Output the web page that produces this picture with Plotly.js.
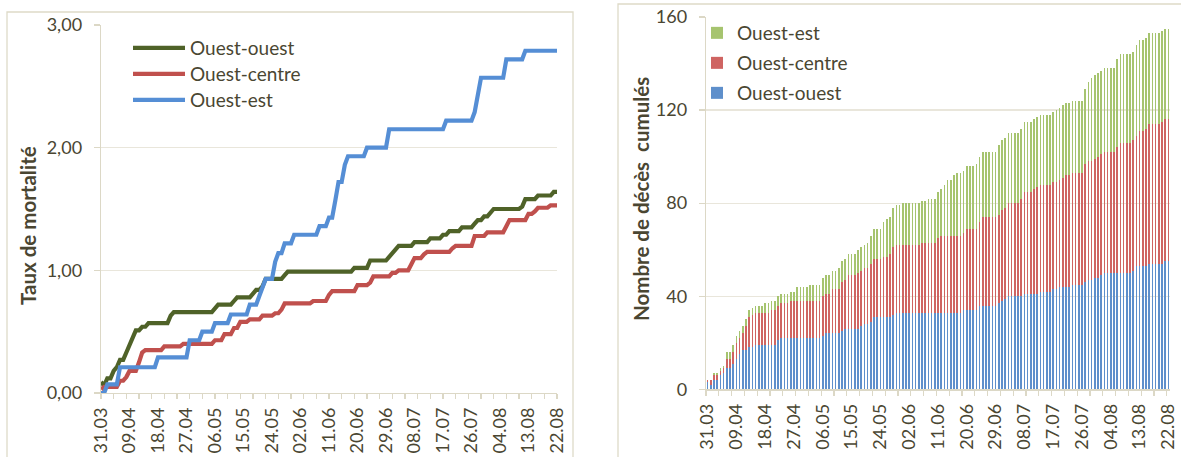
<!DOCTYPE html>
<html>
<head>
<meta charset="utf-8">
<script src="https://cdn.plot.ly/plotly-3.0.1.min.js"></script>
<style>html,body{margin:0;padding:0;background:#fff;}#chart{width:1181px;height:457px;}</style>
</head>
<body>
<div id="chart"></div>
<script>
// ---------- DATA ----------
const dates = [
'31.03',
'01.04','02.04','03.04','04.04','05.04','06.04','07.04','08.04','09.04','10.04',
'11.04','12.04','13.04','14.04','15.04','16.04','17.04','18.04','19.04','20.04',
'21.04','22.04','23.04','24.04','25.04','26.04','27.04','28.04','29.04','30.04',
'01.05','02.05','03.05','04.05','05.05','06.05','07.05','08.05','09.05','10.05',
'11.05','12.05','13.05','14.05','15.05','16.05','17.05','18.05','19.05','20.05',
'21.05','22.05','23.05','24.05','25.05','26.05','27.05','28.05','29.05','30.05','31.05',
'01.06','02.06','03.06','04.06','05.06','06.06','07.06','08.06','09.06','10.06',
'11.06','12.06','13.06','14.06','15.06','16.06','17.06','18.06','19.06','20.06',
'21.06','22.06','23.06','24.06','25.06','26.06','27.06','28.06','29.06','30.06',
'01.07','02.07','03.07','04.07','05.07','06.07','07.07','08.07','09.07','10.07',
'11.07','12.07','13.07','14.07','15.07','16.07','17.07','18.07','19.07','20.07',
'21.07','22.07','23.07','24.07','25.07','26.07','27.07','28.07','29.07','30.07','31.07',
'01.08','02.08','03.08','04.08','05.08','06.08','07.08','08.08','09.08','10.08',
'11.08','12.08','13.08','14.08','15.08','16.08','17.08','18.08','19.08','20.08',
'21.08','22.08'];

const tickLabels = ['31.03','09.04','18.04','27.04','06.05','15.05','24.05','02.06','11.06',
  '20.06','29.06','08.07','17.07','26.07','04.08','13.08','22.08'];

const seriesNames = ['Ouest-ouest','Ouest-centre','Ouest-est'];

// Taux de mortalité (left chart)
const tauxOuestOuest = [
0.09,0.06,0.12,0.12,0.18,0.21,0.27,0.27,0.33,0.39,
0.45,0.51,0.51,0.54,0.54,0.57,0.57,0.57,0.57,0.57,
0.57,0.57,0.63,0.66,0.66,0.66,0.66,0.66,0.66,0.66,
0.66,0.66,0.66,0.66,0.66,0.66,0.69,0.72,0.72,0.72,
0.72,0.72,0.75,0.78,0.78,0.78,0.78,0.78,0.81,0.84,
0.84,0.87,0.93,0.93,0.93,0.93,0.93,0.93,0.96,0.99,
0.99,0.99,0.99,0.99,0.99,0.99,0.99,0.99,0.99,0.99,
0.99,0.99,0.99,0.99,0.99,0.99,0.99,0.99,0.99,0.99,
1.02,1.02,1.02,1.02,1.02,1.08,1.08,1.08,1.08,1.08,
1.08,1.11,1.14,1.17,1.20,1.20,1.20,1.20,1.20,1.23,
1.23,1.23,1.23,1.23,1.26,1.26,1.26,1.26,1.29,1.29,
1.32,1.32,1.32,1.32,1.35,1.35,1.35,1.35,1.38,1.41,
1.41,1.44,1.44,1.47,1.50,1.50,1.50,1.50,1.50,1.50,
1.50,1.50,1.50,1.52,1.58,1.58,1.58,1.58,1.61,1.61,
1.61,1.61,1.61,1.64,1.64];

const tauxOuestCentre = [
0.03,0.05,0.05,0.05,0.05,0.05,0.10,0.10,0.13,0.18,
0.18,0.18,0.25,0.33,0.35,0.35,0.35,0.35,0.35,0.35,
0.38,0.38,0.38,0.38,0.38,0.38,0.40,0.40,0.40,0.40,
0.40,0.40,0.40,0.40,0.40,0.40,0.43,0.43,0.43,0.48,
0.48,0.48,0.53,0.53,0.58,0.58,0.58,0.60,0.60,0.60,
0.60,0.63,0.63,0.63,0.63,0.65,0.65,0.68,0.73,0.73,
0.73,0.73,0.73,0.73,0.73,0.73,0.73,0.75,0.75,0.75,
0.75,0.75,0.80,0.83,0.83,0.83,0.83,0.83,0.83,0.83,
0.83,0.88,0.88,0.88,0.88,0.90,0.95,0.95,0.95,0.95,
0.95,0.95,0.98,0.98,1.00,1.00,1.00,1.00,1.05,1.10,
1.10,1.10,1.13,1.15,1.15,1.15,1.15,1.15,1.15,1.15,
1.15,1.18,1.20,1.20,1.20,1.20,1.20,1.20,1.28,1.28,
1.28,1.28,1.31,1.31,1.31,1.31,1.31,1.31,1.36,1.41,
1.41,1.41,1.41,1.41,1.41,1.46,1.46,1.48,1.51,1.51,
1.51,1.51,1.53,1.53,1.53];

const tauxOuestEst = [
0.00,0.00,0.07,0.07,0.07,0.07,0.21,0.21,0.21,0.21,
0.21,0.21,0.21,0.21,0.21,0.21,0.21,0.21,0.29,0.29,
0.29,0.29,0.29,0.29,0.29,0.29,0.29,0.29,0.43,0.43,
0.43,0.43,0.50,0.50,0.50,0.50,0.57,0.57,0.57,0.57,
0.57,0.64,0.64,0.64,0.64,0.64,0.64,0.72,0.72,0.72,
0.79,0.86,0.93,0.93,0.93,1.07,1.14,1.14,1.22,1.22,
1.22,1.29,1.29,1.29,1.29,1.29,1.29,1.29,1.29,1.36,
1.36,1.36,1.43,1.43,1.57,1.72,1.72,1.86,1.93,1.93,
1.93,1.93,1.93,1.93,2.00,2.00,2.00,2.00,2.00,2.00,
2.00,2.15,2.15,2.15,2.15,2.15,2.15,2.15,2.15,2.15,
2.15,2.15,2.15,2.15,2.15,2.15,2.15,2.15,2.15,2.22,
2.22,2.22,2.22,2.22,2.22,2.22,2.22,2.22,2.29,2.43,
2.57,2.57,2.57,2.57,2.57,2.57,2.57,2.57,2.72,2.72,
2.72,2.72,2.72,2.72,2.79,2.79,2.79,2.79,2.79,2.79,
2.79,2.79,2.79,2.79,2.79];

// Nombre de décès cumulés (right chart)
const decesOuestOuest = [
3,2,4,4,6,7,9,9,11,13,
15,17,17,18,18,19,19,19,19,19,
19,19,21,22,22,22,22,22,22,22,
22,22,22,22,22,22,23,24,24,24,
24,24,25,26,26,26,26,26,27,28,
28,29,31,31,31,31,31,31,32,33,
33,33,33,33,33,33,33,33,33,33,
33,33,33,33,33,33,33,33,33,33,
34,34,34,34,34,36,36,36,36,36,
36,37,38,39,40,40,40,40,40,41,
41,41,41,41,42,42,42,42,43,43,
44,44,44,44,45,45,45,45,46,47,
47,48,48,49,50,50,50,50,50,50,
50,50,50,51,53,53,53,53,54,54,
54,54,54,55,55];

const decesOuestCentre = [
1,2,2,2,2,2,4,4,5,7,
7,7,10,13,14,14,14,14,14,14,
15,15,15,15,15,15,16,16,16,16,
16,16,16,16,16,16,17,17,17,19,
19,19,21,21,23,23,23,24,24,24,
24,25,25,25,25,26,26,27,29,29,
29,29,29,29,29,29,29,30,30,30,
30,30,32,33,33,33,33,33,33,33,
33,35,35,35,35,36,38,38,38,38,
38,38,39,39,40,40,40,40,42,44,
44,44,45,46,46,46,46,46,46,46,
46,47,48,48,48,48,48,48,51,51,
51,51,52,52,52,52,52,52,54,56,
56,56,56,56,56,58,58,59,60,60,
60,60,61,61,61];

const decesOuestEst = [
0,0,1,1,1,1,3,3,3,3,
3,3,3,3,3,3,3,3,4,4,
4,4,4,4,4,4,4,4,6,6,
6,6,7,7,7,7,8,8,8,8,
8,9,9,9,9,9,9,10,10,10,
11,12,13,13,13,15,16,16,17,17,
17,18,18,18,18,18,18,18,18,19,
19,19,20,20,22,24,24,26,27,27,
27,27,27,27,28,28,28,28,28,28,
28,30,30,30,30,30,30,30,30,30,
30,30,30,30,30,30,30,30,30,31,
31,31,31,31,31,31,31,31,32,34,
36,36,36,36,36,36,36,36,38,38,
38,38,38,38,39,39,39,39,39,39,
39,39,39,39,39];

const yTicksLeft = [0, 1, 2, 3];
const yTickLabelsLeft = ['0,00', '1,00', '2,00', '3,00'];
const yTicksRight = [0, 40, 80, 120, 160];

// ---------- STYLE ----------
const W = 1181, H = 457;
const FONT = 'Lato, "Open Sans", sans-serif';
const TXT = '#4a4632';
const AX = '#dcd8c6';
const GRID = '#e9e6db';
const lineColors = ['#4f6228', '#c0504d', '#558ed5'];
const barColors = ['#5e8fcb', '#cf6462', '#a6c46f'];

const px = v => v / W;
const py = v => 1 - v / H;

const idx = dates.map((d, i) => i);
const tickIdx = tickLabels.map(l => dates.indexOf(l));

const tauxSeries = [tauxOuestOuest, tauxOuestCentre, tauxOuestEst];
const decesSeries = [decesOuestOuest, decesOuestCentre, decesOuestEst];

const traces = [];
const leftLegendY = [48, 74, 100];
const rightLegendY = [93, 63, 33];
const legends = {};

seriesNames.forEach((name, k) => {
  const lg = 'legend' + (k === 0 ? '' : (k + 1));
  traces.push({
    type: 'scatter', mode: 'lines', name: name,
    x: idx, y: tauxSeries[k], xaxis: 'x', yaxis: 'y',
    line: {color: lineColors[k], width: 4.2, shape: 'linear'},
    legend: lg, hoverinfo: 'skip'
  });
  legends[k === 0 ? 'legend' : 'legend' + (k + 1)] = {
    x: px(128), y: py(leftLegendY[k]), xanchor: 'left', yanchor: 'middle',
    bgcolor: 'rgba(0,0,0,0)', borderwidth: 0, itemwidth: 52,
    font: {family: FONT, size: 19, color: TXT}
  };
});

seriesNames.forEach((name, k) => {
  const lg = 'legend' + (k + 4);
  traces.push({
    type: 'bar', name: name,
    x: idx, y: decesSeries[k], xaxis: 'x2', yaxis: 'y2',
    marker: {color: barColors[k], line: {width: 0}},
    legend: lg, hoverinfo: 'skip'
  });
  legends['legend' + (k + 4)] = {
    x: px(697), y: py(rightLegendY[k]), xanchor: 'left', yanchor: 'middle',
    bgcolor: 'rgba(0,0,0,0)', borderwidth: 0,
    font: {family: FONT, size: 19, color: TXT}
  };
});

const xCommon = {
  type: 'linear',
  tickmode: 'array', tickvals: tickIdx, ticktext: tickLabels,
  tickangle: -90, ticks: '',
  tickfont: {family: FONT, size: 18, color: TXT},
  showline: true, linecolor: AX, linewidth: 1.3,
  showgrid: false, zeroline: false, fixedrange: true,
  ticklabelstandoff: 6
};

const layout = Object.assign({
  width: W, height: H,
  margin: {l: 0, r: 0, t: 0, b: 0, pad: 0},
  paper_bgcolor: '#ffffff', plot_bgcolor: '#ffffff',
  barmode: 'stack', bargap: 0.45,
  showlegend: true,
  xaxis: Object.assign({}, xCommon, {
    domain: [px(101), px(557)], range: [0, 144], anchor: 'y',
    minor: {ticks: 'outside', tick0: 0, dtick: 4, ticklen: 5, tickcolor: AX, tickwidth: 1.3, showgrid: false}
  }),
  yaxis: {
    domain: [py(393), py(25)], range: [0, 3], anchor: 'x',
    tickmode: 'array', tickvals: yTicksLeft, ticktext: yTickLabelsLeft,
    ticks: 'outside', ticklen: 6, tickcolor: AX, tickwidth: 1.3,
    showline: true, linecolor: AX, linewidth: 1.3,
    showgrid: true, gridcolor: GRID, gridwidth: 1.3, zeroline: false,
    tickfont: {family: FONT, size: 18, color: TXT}, ticklabelstandoff: 8, fixedrange: true
  },
  xaxis2: Object.assign({}, xCommon, {
    domain: [px(706), px(1170)], range: [-0.5, 144.5], anchor: 'y2',
    minor: {ticks: 'outside', tick0: -0.5, dtick: 4, ticklen: 5, tickcolor: AX, tickwidth: 1.3, showgrid: false}
  }),
  yaxis2: {
    domain: [py(389.3), py(17)], range: [0, 160], anchor: 'x2',
    tickmode: 'array', tickvals: yTicksRight,
    ticks: 'outside', ticklen: 6, tickcolor: AX, tickwidth: 1.3,
    showline: true, linecolor: AX, linewidth: 1.3,
    showgrid: true, gridcolor: GRID, gridwidth: 1.3, zeroline: false,
    tickfont: {family: FONT, size: 18, color: TXT}, ticklabelstandoff: 8, fixedrange: true
  },
  shapes: [
    {type: 'rect', xref: 'paper', yref: 'paper', x0: px(7), x1: px(573), y0: -0.1, y1: py(12),
     line: {color: '#dedac8', width: 1.3}, fillcolor: 'rgba(0,0,0,0)', layer: 'below'},
    {type: 'rect', xref: 'paper', yref: 'paper', x0: px(618), x1: px(1200), y0: -0.1, y1: py(4),
     line: {color: '#dedac8', width: 1.3}, fillcolor: 'rgba(0,0,0,0)', layer: 'below'}
  ],
  annotations: [
    {text: '<b>Taux de mortalité</b>', xref: 'paper', yref: 'paper', x: px(28), y: py(226),
     xanchor: 'center', yanchor: 'middle', textangle: -90, showarrow: false,
     font: {family: FONT, size: 20.5, color: TXT}},
    {text: '<b>Nombre de décès \u00a0cumulés</b>', xref: 'paper', yref: 'paper', x: px(641), y: py(199),
     xanchor: 'center', yanchor: 'middle', textangle: -90, showarrow: false,
     font: {family: FONT, size: 20.5, color: TXT}}
  ]
}, legends);

Plotly.newPlot('chart', traces, layout, {displayModeBar: false, staticPlot: true});
</script>
</body>
</html>
